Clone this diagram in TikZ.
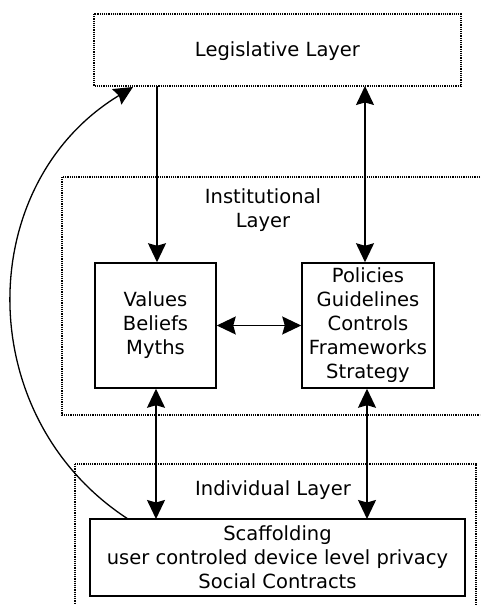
\documentclass[tikz,border=0pt]{standalone}
\usepackage{fontspec}
\setmainfont{DejaVu Sans}
\usetikzlibrary{arrows.meta}
\begin{document}
\begin{tikzpicture}[x=1pt,y=1pt,
  >={Stealth[length=19pt,width=18pt,inset=2.5pt]},
  layer/.style={draw, line width=1.2pt, dash pattern=on 1.2pt off 1pt},
  inbox/.style={draw, line width=1.5pt, inner sep=0pt},
  txt/.style={align=center, font=\fontsize{19.5}{24}\selectfont, inner sep=0pt},
  conn/.style={line width=1.4pt, ->},
  dconn/.style={line width=1.4pt, <->}]
\clip (0,0) rectangle (480,605);
\fill[white] (0,0) rectangle (480,605);
% layers
\draw[layer] (94,591) rectangle (461,519);
\node[txt] (leg) at (277.5,554) {Legislative Layer};
\draw[layer] (62,428) rectangle (495,190);
\node[txt] (inst) at (263,395) {Institutional\\Layer};
\draw[layer] (75,141) rectangle (476,-15);
\node[txt] (indl) at (273,115) {Individual Layer};
% coordinates on layer edges
\coordinate (legL) at (157,519);
\coordinate (legR) at (365,519);
\coordinate (legC) at (133,518);
% inner boxes
\node[inbox, minimum width=121pt, minimum height=125pt] (val) at (155.5,279.5) {};
\node[txt] at (val.center) {Values\\Beliefs\\Myths};
\node[inbox, minimum width=132pt, minimum height=125pt] (pol) at (368,279.5) {};
\node[txt] at (pol.center) {Policies\\Guidelines\\Controls\\Frameworks\\Strategy};
\node[inbox, minimum width=375pt, minimum height=77pt] (sca) at (277.5,47.5) {};
\node[txt] at (sca.center) {Scaffolding\\user controled device level privacy\\Social Contracts};
\coordinate (scaL) at (156,86);
\coordinate (scaR) at (367,86);
\coordinate (scaC) at (128,86);
% connectors
\draw[conn] (legL) -- (legL |- val.north);
\draw[dconn] (legR) -- (legR |- pol.north);
\draw[dconn] (val.east) -- (pol.west);
\draw[dconn] (scaL |- val.south) -- (scaL);
\draw[dconn] (scaR |- pol.south) -- (scaR);
\draw[conn, line width=1.3pt] (scaC) .. controls (-29,188) and (-27,421) .. (legC);
\end{tikzpicture}
\end{document}
